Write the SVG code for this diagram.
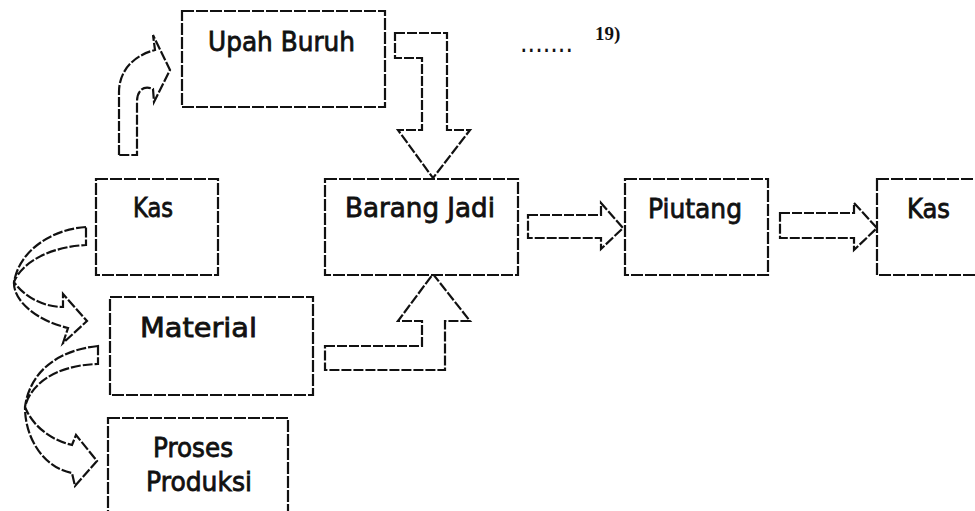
<svg xmlns="http://www.w3.org/2000/svg" width="975" height="511" viewBox="0 0 975 511">
<style>
.box{fill:#fff;stroke:#111;stroke-width:2.2;stroke-dasharray:12 2}
.arr{fill:#fff;stroke:#111;stroke-width:2.2;stroke-dasharray:10 2;stroke-linejoin:miter}
.t{font-family:"DejaVu Sans","Liberation Sans",sans-serif;font-size:26px;fill:#111;stroke:#111;stroke-width:0.8}
.n{font-family:"Liberation Serif",serif;font-size:19px;font-weight:bold;fill:#111}
</style>
<rect width="975" height="511" fill="#fff"/>
<g id="connectors">
<path class="arr" d="M119,155 L119,92 C119,72 132,56 155,50 L153,35 L170,70 L154,102 L153,89 C144,85 137,90 137,102 L137,155 Z"/>
<path class="arr" d="M395,33 L447,33 L447,130 L470,130 L433,178 L398,130 L422,130 L422,58 L395,58 Z"/>
<path class="arr" d="M325,346 L422,346 L422,321 L398,321 L433,274 L470,321 L445,321 L445,370 L325,370 Z"/>
<path class="arr" d="M528,215 L601,215 L601,203 L623,228 L601,249 L601,238 L528,238 Z"/>
<path class="arr" d="M780,213 L854,213 L854,203 L877,228 L854,250 L854,238 L780,238 Z"/>
<path class="arr" d="M86,227 C55,229 20,248 14,282 C13,300 35,320 68,328 L63,343 L87,321 L63,294 L63,307 C45,307 25,298 14,282 C22,262 50,247 86,245 Z"/>
<path class="arr" d="M98,346 C60,350 30,370 25,407 C25,440 45,468 72,473 L75,486 L97,461 L76,435 L72,445 C50,440 32,425 25,407 C30,385 55,365 98,364 Z"/>
</g>
<g id="upah-buruh">
<rect class="box" x="182" y="11" width="203" height="96"/>
<text class="t" x="208" y="51" textLength="147" lengthAdjust="spacingAndGlyphs">Upah Buruh</text>
</g>
<g id="kas-awal">
<rect class="box" x="96" y="179" width="122" height="96"/>
<text class="t" x="133" y="217" textLength="40" lengthAdjust="spacingAndGlyphs">Kas</text>
</g>
<g id="barang-jadi">
<rect class="box" x="325" y="179" width="193" height="96"/>
<text class="t" x="345" y="217" textLength="150" lengthAdjust="spacingAndGlyphs">Barang Jadi</text>
</g>
<g id="piutang">
<rect class="box" x="625" y="179" width="143" height="96"/>
<text class="t" x="648" y="218" textLength="94" lengthAdjust="spacingAndGlyphs">Piutang</text>
</g>
<g id="kas-akhir">
<rect class="box" x="877" y="179" width="120" height="96"/>
<text class="t" x="907" y="218" textLength="43" lengthAdjust="spacingAndGlyphs">Kas</text>
</g>
<g id="material">
<rect class="box" x="110" y="297" width="203" height="98"/>
<text class="t" x="140" y="337" textLength="117" lengthAdjust="spacingAndGlyphs">Material</text>
</g>
<g id="proses-produksi">
<rect class="box" x="108" y="418" width="180" height="110"/>
<text class="t" x="153" y="457" textLength="80" lengthAdjust="spacingAndGlyphs">Proses</text>
<text class="t" x="146" y="491" textLength="106" lengthAdjust="spacingAndGlyphs">Produksi</text>
</g>
<g id="note">
<text class="t" x="520" y="52" textLength="53" lengthAdjust="spacingAndGlyphs" style="stroke:none">.......</text>
<text class="n" x="595" y="40">19)</text>
</g>
</svg>
